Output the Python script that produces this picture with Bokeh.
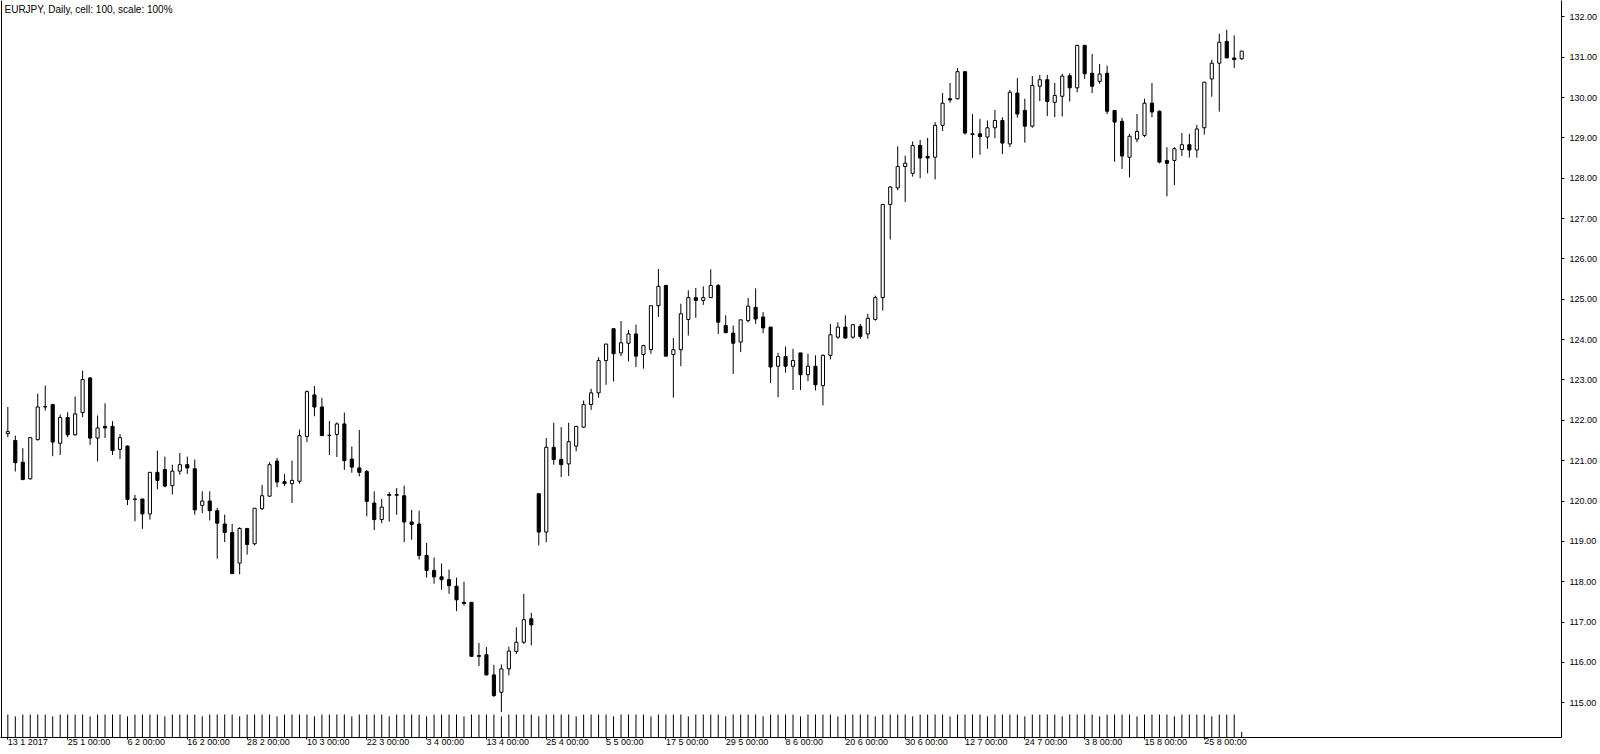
from bokeh.plotting import figure
from bokeh.models import Range1d, FixedTicker, Span, Label, ColumnDataSource
from bokeh.embed import file_html
from bokeh.resources import INLINE

title_text = "EURJPY, Daily, cell: 100, scale: 100%"

opens = [121.67, 121.50, 120.96, 120.55, 121.52, 122.33, 122.39, 121.43, 122.07, 121.64,
         122.19, 123.05, 121.56, 121.85, 121.85, 121.28, 121.36, 120.04, 120.05, 119.68,
         120.71, 120.78, 120.38, 120.74, 120.90, 120.80, 119.89, 120.00, 119.76, 119.43,
         119.22, 118.46, 119.32, 118.94, 119.81, 120.12, 120.99, 120.48, 120.43, 120.49,
         121.60, 122.63, 122.33, 121.63, 121.65, 121.91, 121.04, 120.82, 120.73, 119.95,
         119.54, 120.16, 120.14, 120.13, 119.48, 119.43, 118.65, 118.28, 118.12, 118.05,
         117.89, 117.49, 117.49, 116.17, 116.19, 115.69, 115.26, 115.84, 116.27, 116.50,
         117.08, 120.18, 119.23, 121.33, 121.03, 120.92, 121.36, 121.83, 122.39, 122.68,
         123.48, 124.27, 123.67, 123.91, 124.14, 123.63, 123.75, 124.84, 125.34, 123.63,
         123.75, 124.50, 125.04, 124.97, 125.04, 125.34, 124.35, 124.16, 123.94, 124.47,
         124.80, 124.56, 124.31, 123.34, 123.58, 123.34, 123.67, 123.13, 123.34, 122.86,
         123.61, 124.06, 124.31, 124.06, 124.33, 124.14, 124.50, 125.04, 127.35, 127.76,
         128.29, 128.12, 128.81, 128.54, 128.52, 129.31, 129.97, 129.97, 130.64, 129.10,
         129.10, 129.02, 129.25, 129.43, 128.85, 130.11, 129.68, 129.29, 130.28, 130.44,
         129.88, 130.03, 130.54, 130.24, 131.29, 130.60, 130.40, 130.60, 129.68, 129.41,
         128.52, 128.97, 129.06, 129.86, 129.66, 128.44, 128.44, 128.71, 128.83, 128.70,
         129.25, 130.46, 130.85, 131.39, 130.98, 130.96]
highs = [122.33, 121.62, 121.31, 121.57, 122.66, 122.86, 122.41, 122.14, 122.20, 122.59,
         123.23, 123.07, 122.12, 122.42, 121.98, 121.66, 121.38, 120.15, 120.05, 120.71,
         121.25, 121.10, 120.90, 121.19, 121.10, 121.03, 120.24, 120.24, 119.83, 119.66,
         119.43, 119.35, 119.32, 119.82, 120.40, 120.96, 121.07, 120.67, 121.00, 121.77,
         122.74, 122.85, 122.56, 121.98, 121.95, 122.19, 121.35, 121.76, 120.77, 120.24,
         120.05, 120.22, 120.32, 120.38, 119.78, 119.76, 118.96, 118.60, 118.45, 118.30,
         118.10, 118.00, 117.49, 116.48, 116.38, 115.94, 115.95, 116.39, 116.87, 117.70,
         117.23, 120.18, 121.56, 121.94, 121.83, 121.94, 121.85, 122.49, 122.78, 123.56,
         123.89, 124.27, 124.46, 124.24, 124.37, 123.87, 124.84, 125.75, 125.36, 124.04,
         124.89, 125.22, 125.28, 125.32, 125.74, 125.38, 124.60, 124.35, 124.49, 125.03,
         125.27, 124.68, 124.31, 123.67, 123.83, 123.77, 123.67, 123.65, 123.61, 123.63,
         124.39, 124.43, 124.60, 124.37, 124.39, 124.64, 125.09, 127.36, 127.80, 128.79,
         128.56, 128.91, 128.95, 129.00, 129.39, 130.11, 130.36, 130.73, 130.65, 129.59,
         129.47, 129.43, 129.69, 129.51, 130.19, 130.48, 129.97, 130.53, 130.56, 130.56,
         130.36, 130.59, 130.60, 131.31, 131.31, 131.08, 130.83, 130.79, 129.69, 129.50,
         129.10, 129.59, 129.97, 130.36, 129.68, 128.77, 128.77, 129.12, 129.10, 129.32,
         130.38, 130.93, 131.58, 131.68, 131.54, 131.15]
lows = [121.58, 120.73, 120.52, 120.53, 121.50, 122.24, 121.11, 121.14, 121.58, 121.62,
        122.08, 121.39, 120.98, 121.56, 121.14, 121.04, 119.90, 119.50, 119.31, 119.54,
        120.29, 120.34, 120.16, 120.65, 120.67, 119.66, 119.70, 119.52, 118.57, 118.98,
        118.19, 118.18, 118.67, 118.90, 119.78, 120.11, 120.34, 120.37, 119.95, 120.43,
        121.46, 122.10, 121.61, 121.14, 121.09, 120.77, 120.70, 120.61, 119.62, 119.28,
        119.45, 119.49, 119.66, 118.98, 119.04, 118.55, 118.10, 117.95, 117.80, 117.70,
        117.27, 117.41, 116.15, 115.91, 115.68, 115.14, 114.77, 115.68, 116.21, 116.46,
        116.42, 118.90, 118.98, 120.90, 120.59, 120.62, 121.23, 121.81, 122.26, 122.56,
        122.88, 122.96, 123.59, 123.46, 123.32, 123.28, 123.65, 124.56, 123.59, 122.56,
        123.34, 124.10, 124.54, 124.86, 125.04, 124.14, 124.17, 123.15, 123.69, 124.43,
        124.39, 124.16, 122.92, 122.57, 123.18, 122.75, 122.75, 122.97, 122.74, 122.37,
        123.51, 124.02, 124.02, 124.02, 124.02, 124.02, 124.47, 124.72, 126.48, 127.70,
        127.41, 128.04, 128.00, 128.12, 127.97, 129.17, 129.87, 129.95, 129.08, 128.50,
        128.58, 128.73, 128.99, 128.60, 128.77, 129.50, 128.88, 129.25, 129.91, 129.54,
        129.51, 129.53, 129.90, 130.13, 130.46, 130.11, 130.34, 129.59, 128.41, 128.23,
        128.02, 128.89, 129.02, 129.51, 128.37, 127.55, 127.83, 128.55, 128.51, 128.51,
        129.08, 130.02, 129.65, 130.98, 130.73, 130.93]
closes = [121.72, 120.95, 120.53, 121.57, 122.33, 122.34, 121.46, 122.07, 121.64, 122.16,
          123.01, 121.56, 121.81, 121.81, 121.25, 121.57, 120.04, 120.05, 119.68, 120.71,
          120.51, 120.37, 120.74, 120.90, 120.82, 119.78, 120.00, 119.76, 119.45, 119.22,
          118.20, 119.32, 118.92, 119.82, 120.13, 120.90, 120.47, 120.43, 120.51, 121.62,
          122.71, 122.33, 121.62, 121.62, 121.91, 121.00, 120.84, 120.71, 119.99, 119.54,
          119.85, 120.14, 120.16, 119.48, 119.42, 118.65, 118.28, 118.12, 118.05, 117.90,
          117.55, 117.46, 116.15, 116.15, 115.69, 115.18, 115.84, 116.28, 116.50, 117.06,
          116.93, 119.23, 121.33, 121.03, 120.90, 121.47, 121.85, 122.39, 122.68, 123.48,
          123.89, 123.65, 123.92, 124.14, 123.59, 123.85, 124.84, 125.32, 123.59, 123.75,
          124.64, 125.04, 124.97, 125.04, 125.34, 124.43, 124.17, 123.91, 124.49, 124.83,
          124.51, 124.29, 123.32, 123.58, 123.34, 123.48, 123.13, 123.34, 122.88, 123.61,
          124.12, 124.31, 124.04, 124.37, 124.08, 124.53, 125.04, 127.35, 127.78, 128.29,
          128.37, 128.81, 128.50, 128.50, 129.31, 129.86, 129.94, 130.64, 129.12, 129.08,
          129.03, 129.25, 129.43, 128.87, 130.13, 129.59, 129.29, 130.30, 130.44, 129.90,
          130.05, 130.53, 130.24, 131.29, 130.59, 130.28, 130.58, 129.66, 129.39, 128.55,
          129.04, 129.16, 129.86, 129.64, 128.40, 128.37, 128.73, 128.83, 128.70, 129.22,
          130.38, 130.85, 131.37, 130.98, 130.94, 131.15]

# relative tick volume (Mondays lower), last bar still forming; one entry per bar
volumes = [1.0,
           0.92, 1.0, 1.0, 1.0, 1.0,  0.92, 1.0, 1.0, 1.0, 1.0,  0.92, 1.0, 1.0, 1.0, 1.0,
           0.92, 1.0, 1.0, 1.0, 1.0,  0.92, 1.0, 1.0, 1.0, 1.0,  0.92, 1.0, 1.0, 1.0, 1.0,
           0.92, 1.0, 1.0, 1.0, 1.0,  0.92, 1.0, 1.0, 1.0, 1.0,  0.92, 1.0, 1.0, 1.0, 1.0,
           0.92, 1.0, 1.0, 1.0, 1.0,  0.92, 1.0, 1.0, 1.0, 1.0,  0.92, 1.0, 1.0, 1.0, 1.0,
           0.92, 1.0, 1.0, 1.0, 1.0,  0.92, 1.0, 1.0, 1.0, 1.0,  0.92, 1.0, 1.0, 1.0, 1.0,
           0.92, 1.0, 1.0, 1.0, 1.0,  0.92, 1.0, 1.0, 1.0, 1.0,  0.92, 1.0, 1.0, 1.0, 1.0,
           0.92, 1.0, 1.0, 1.0, 1.0,  0.92, 1.0, 1.0, 1.0, 1.0,  0.92, 1.0, 1.0, 1.0, 1.0,
           0.92, 1.0, 1.0, 1.0, 1.0,  0.92, 1.0, 1.0, 1.0, 1.0,  0.92, 1.0, 1.0, 1.0, 1.0,
           0.92, 1.0, 1.0, 1.0, 1.0,  0.92, 1.0, 1.0, 1.0, 1.0,  0.92, 1.0, 1.0, 1.0, 1.0,
           0.92, 1.0, 1.0, 1.0, 1.0,  0.92, 1.0, 1.0, 1.0, 1.0,  0.92, 1.0, 1.0, 1.0, 1.0,
           0.92, 1.0, 1.0, 1.0, 1.0,  0.92, 1.0, 1.0, 1.0, 1.0,  0.92, 1.0, 1.0, 1.0, 0.25]

x_tick_bars = [0, 8, 16, 24, 32, 40, 48, 56, 64, 72, 80, 88, 96, 104, 112, 120, 128, 136, 144, 152, 160]
x_tick_labels = ["13 1 2017", "25 1 00:00", "6 2 00:00", "16 2 00:00", "28 2 00:00", "10 3 00:00",
                 "22 3 00:00", "3 4 00:00", "13 4 00:00", "25 4 00:00", "5 5 00:00", "17 5 00:00",
                 "29 5 00:00", "8 6 00:00", "20 6 00:00", "30 6 00:00", "12 7 00:00", "24 7 00:00",
                 "3 8 00:00", "15 8 00:00", "25 8 00:00"]
y_ticks = [115, 116, 117, 118, 119, 120, 121, 122, 123, 124, 125, 126, 127, 128, 129, 130, 131, 132]
y_tick_labels = ["115.00", "116.00", "117.00", "118.00", "119.00", "120.00", "121.00", "122.00", "123.00",
                 "124.00", "125.00", "126.00", "127.00", "128.00", "129.00", "130.00", "131.00", "132.00"]

FONT = "Liberation Sans"

# ---- layout (pixels) ----
FIG_W, FIG_H = 1600, 754
BORDER_R, BORDER_B = 39, 17
FRAME_W = FIG_W - BORDER_R
FRAME_H = FIG_H - BORDER_B
BAR_PX = 7.478
FIRST_BAR_PX = 7.33
X_START = -FIRST_BAR_PX / BAR_PX
X_END = X_START + FRAME_W / BAR_PX
PX_PER_UNIT = 40.35
Y_END = 132.0 + 16.3 / PX_PER_UNIT
Y_START = Y_END - FRAME_H / PX_PER_UNIT

p = figure(width=FIG_W, height=FIG_H, output_backend="svg", toolbar_location=None,
           x_range=Range1d(X_START, X_END), y_range=Range1d(Y_START, Y_END),
           y_axis_location="right",
           min_border_left=0, min_border_top=0, min_border_right=BORDER_R, min_border_bottom=BORDER_B)
p.background_fill_color = "white"
p.border_fill_color = "white"
p.outline_line_color = None
p.xgrid.visible = False
p.ygrid.visible = False

n = len(opens)
xs = list(range(n))

# volume ticks at the bottom
vol_scale = 23.0 / PX_PER_UNIT
p.segment(x0=xs, y0=[Y_START] * n, x1=xs, y1=[Y_START + v * vol_scale for v in volumes[:n]],
          line_color="black", line_width=1)

# wicks
p.segment(x0=xs, y0=lows, x1=xs, y1=highs, line_color="black", line_width=1)

up_idx = [i for i in range(n) if closes[i] >= opens[i]]
dn_idx = [i for i in range(n) if closes[i] < opens[i]]
up_src = ColumnDataSource(dict(x=[xs[i] for i in up_idx],
                               top=[closes[i] for i in up_idx],
                               bottom=[opens[i] for i in up_idx]))
dn_src = ColumnDataSource(dict(x=[xs[i] for i in dn_idx],
                               top=[opens[i] for i in dn_idx],
                               bottom=[closes[i] for i in dn_idx]))
p.vbar(x="x", top="top", bottom="bottom", width=0.42, source=up_src,
       fill_color="white", line_color="black", line_width=1)
p.vbar(x="x", top="top", bottom="bottom", width=0.42, source=dn_src,
       fill_color="black", line_color="black", line_width=1)

# left border
p.add_layout(Span(location=X_START + 1.0 / BAR_PX, dimension="height", line_color="black", line_width=1))

# title
p.add_layout(Label(x=X_START + 4.0 / BAR_PX, y=Y_END, text=title_text, text_font=FONT,
                   text_font_size="10px", text_color="black", text_align="left",
                   text_baseline="top", y_offset=-3))

# x axis
xa = p.xaxis[0]
xa.ticker = FixedTicker(ticks=x_tick_bars)
xa.major_label_overrides = {b: t for b, t in zip(x_tick_bars, x_tick_labels)}
xa.major_label_orientation = -0.0001
xa.major_label_text_font = FONT
xa.major_label_text_font_size = "9px"
xa.major_label_text_color = "black"
xa.major_label_standoff = 2
xa.major_tick_out = 2
xa.major_tick_in = 0
xa.minor_tick_line_color = None
xa.axis_line_color = "black"
xa.major_tick_line_color = "black"

# y axis (right)
ya = p.yaxis[0]
ya.ticker = FixedTicker(ticks=y_ticks)
ya.major_label_overrides = {t: s for t, s in zip(y_ticks, y_tick_labels)}
ya.major_label_text_font = FONT
ya.major_label_text_font_size = "9px"
ya.major_label_text_color = "black"
ya.major_label_standoff = 5
ya.major_tick_out = 3
ya.major_tick_in = 0
ya.minor_tick_line_color = None
ya.axis_line_color = "black"
ya.major_tick_line_color = "black"

open("out.html", "w").write(file_html(p, INLINE))
